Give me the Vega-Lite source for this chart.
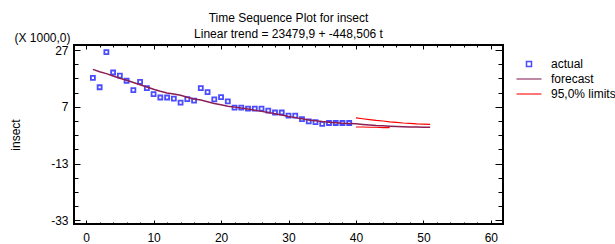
{
  "$schema": "https://vega.github.io/schema/vega-lite/v6.json",
  "width": 429,
  "height": 179,
  "autosize": {"type": "none"},
  "padding": {"left": 74, "top": 45, "right": 112, "bottom": 20},
  "background": "#ffffff",
  "title": {
    "text": "Time Sequence Plot for insect",
    "subtitle": "Linear trend = 23479,9 + -448,506 t",
    "anchor": "middle",
    "frame": "group",
    "font": "Liberation Sans",
    "subtitleFont": "Liberation Sans",
    "fontSize": 12,
    "subtitleFontSize": 12,
    "fontWeight": "normal",
    "color": "#000000",
    "subtitleColor": "#000000",
    "offset": -10,
    "subtitlePadding": 4
  },
  "config": {
    "view": {"stroke": "#000000", "strokeWidth": 2},
    "font": "Liberation Sans",
    "axis": {"labelFont": "Liberation Sans", "titleFont": "Liberation Sans", "labelFontSize": 12, "titleFontSize": 12, "labelColor": "#000000", "titleColor": "#000000", "tickColor": "#000000", "titleFontWeight": "normal", "domain": false, "grid": false}
  },
  "data": {
    "values": [
      {"t": 1, "value": 17200, "series": "actual"},
      {"t": 2, "value": 13900, "series": "actual"},
      {"t": 3, "value": 26300, "series": "actual"},
      {"t": 4, "value": 19100, "series": "actual"},
      {"t": 5, "value": 18000, "series": "actual"},
      {"t": 6, "value": 16200, "series": "actual"},
      {"t": 7, "value": 12900, "series": "actual"},
      {"t": 8, "value": 15800, "series": "actual"},
      {"t": 9, "value": 13600, "series": "actual"},
      {"t": 10, "value": 11500, "series": "actual"},
      {"t": 11, "value": 10300, "series": "actual"},
      {"t": 12, "value": 10300, "series": "actual"},
      {"t": 13, "value": 9900, "series": "actual"},
      {"t": 14, "value": 8500, "series": "actual"},
      {"t": 15, "value": 9700, "series": "actual"},
      {"t": 16, "value": 9200, "series": "actual"},
      {"t": 17, "value": 13600, "series": "actual"},
      {"t": 18, "value": 12200, "series": "actual"},
      {"t": 19, "value": 9600, "series": "actual"},
      {"t": 20, "value": 10400, "series": "actual"},
      {"t": 21, "value": 8900, "series": "actual"},
      {"t": 22, "value": 6700, "series": "actual"},
      {"t": 23, "value": 6700, "series": "actual"},
      {"t": 24, "value": 6400, "series": "actual"},
      {"t": 25, "value": 6400, "series": "actual"},
      {"t": 26, "value": 6400, "series": "actual"},
      {"t": 27, "value": 5700, "series": "actual"},
      {"t": 28, "value": 5000, "series": "actual"},
      {"t": 29, "value": 5000, "series": "actual"},
      {"t": 30, "value": 3900, "series": "actual"},
      {"t": 31, "value": 3900, "series": "actual"},
      {"t": 32, "value": 2700, "series": "actual"},
      {"t": 33, "value": 1900, "series": "actual"},
      {"t": 34, "value": 1600, "series": "actual"},
      {"t": 35, "value": 1000, "series": "actual"},
      {"t": 36, "value": 1300, "series": "actual"},
      {"t": 37, "value": 1300, "series": "actual"},
      {"t": 38, "value": 1300, "series": "actual"},
      {"t": 39, "value": 1300, "series": "actual"},
      {"t": 1, "value": 20200, "series": "forecast"},
      {"t": 2, "value": 19400, "series": "forecast"},
      {"t": 3, "value": 18700, "series": "forecast"},
      {"t": 4, "value": 17900, "series": "forecast"},
      {"t": 5, "value": 17100, "series": "forecast"},
      {"t": 6, "value": 16400, "series": "forecast"},
      {"t": 7, "value": 15600, "series": "forecast"},
      {"t": 8, "value": 14800, "series": "forecast"},
      {"t": 9, "value": 14000, "series": "forecast"},
      {"t": 10, "value": 13200, "series": "forecast"},
      {"t": 11, "value": 12500, "series": "forecast"},
      {"t": 12, "value": 11900, "series": "forecast"},
      {"t": 13, "value": 11500, "series": "forecast"},
      {"t": 14, "value": 11100, "series": "forecast"},
      {"t": 15, "value": 10400, "series": "forecast"},
      {"t": 16, "value": 9800, "series": "forecast"},
      {"t": 17, "value": 9400, "series": "forecast"},
      {"t": 18, "value": 8800, "series": "forecast"},
      {"t": 19, "value": 8200, "series": "forecast"},
      {"t": 20, "value": 7700, "series": "forecast"},
      {"t": 21, "value": 7200, "series": "forecast"},
      {"t": 22, "value": 6900, "series": "forecast"},
      {"t": 23, "value": 6600, "series": "forecast"},
      {"t": 24, "value": 6200, "series": "forecast"},
      {"t": 25, "value": 5800, "series": "forecast"},
      {"t": 26, "value": 5400, "series": "forecast"},
      {"t": 27, "value": 5000, "series": "forecast"},
      {"t": 28, "value": 4600, "series": "forecast"},
      {"t": 29, "value": 4100, "series": "forecast"},
      {"t": 30, "value": 3600, "series": "forecast"},
      {"t": 31, "value": 3200, "series": "forecast"},
      {"t": 32, "value": 2800, "series": "forecast"},
      {"t": 33, "value": 2400, "series": "forecast"},
      {"t": 34, "value": 2100, "series": "forecast"},
      {"t": 35, "value": 1800, "series": "forecast"},
      {"t": 36, "value": 1600, "series": "forecast"},
      {"t": 37, "value": 1400, "series": "forecast"},
      {"t": 38, "value": 1200, "series": "forecast"},
      {"t": 39, "value": 1100, "series": "forecast"},
      {"t": 40, "value": 1000, "series": "forecast"},
      {"t": 41, "value": 800, "series": "forecast"},
      {"t": 42, "value": 600, "series": "forecast"},
      {"t": 43, "value": 400, "series": "forecast"},
      {"t": 44, "value": 300, "series": "forecast"},
      {"t": 45, "value": 200, "series": "forecast"},
      {"t": 46, "value": 100, "series": "forecast"},
      {"t": 47, "value": 0, "series": "forecast"},
      {"t": 48, "value": -100, "series": "forecast"},
      {"t": 49, "value": -100, "series": "forecast"},
      {"t": 50, "value": -200, "series": "forecast"},
      {"t": 51, "value": -200, "series": "forecast"},
      {"t": 40, "value": 3100, "series": "95,0% limits", "bound": "upper"},
      {"t": 41, "value": 2800, "series": "95,0% limits", "bound": "upper"},
      {"t": 42, "value": 2500, "series": "95,0% limits", "bound": "upper"},
      {"t": 43, "value": 2200, "series": "95,0% limits", "bound": "upper"},
      {"t": 44, "value": 2000, "series": "95,0% limits", "bound": "upper"},
      {"t": 45, "value": 1700, "series": "95,0% limits", "bound": "upper"},
      {"t": 46, "value": 1500, "series": "95,0% limits", "bound": "upper"},
      {"t": 47, "value": 1300, "series": "95,0% limits", "bound": "upper"},
      {"t": 48, "value": 1200, "series": "95,0% limits", "bound": "upper"},
      {"t": 49, "value": 1000, "series": "95,0% limits", "bound": "upper"},
      {"t": 50, "value": 900, "series": "95,0% limits", "bound": "upper"},
      {"t": 51, "value": 800, "series": "95,0% limits", "bound": "upper"},
      {"t": 40, "value": -100, "series": "95,0% limits", "bound": "lower"},
      {"t": 41, "value": -100, "series": "95,0% limits", "bound": "lower"},
      {"t": 42, "value": -200, "series": "95,0% limits", "bound": "lower"},
      {"t": 43, "value": -200, "series": "95,0% limits", "bound": "lower"},
      {"t": 44, "value": -300, "series": "95,0% limits", "bound": "lower"},
      {"t": 45, "value": -300, "series": "95,0% limits", "bound": "lower"}
    ]
  },
  "layer": [
    {
      "transform": [{"filter": "datum.series === 'actual'"}],
      "mark": {"type": "point", "shape": "square", "filled": false, "size": 16, "strokeWidth": 1.8},
      "encoding": {
        "x": {
          "field": "t", "type": "quantitative",
          "scale": {"domain": [-1.8, 61.8], "nice": false, "zero": false},
          "axis": {
            "orient": "bottom", "title": null,
            "values": [0,2,4,6,8,10,12,14,16,18,20,22,24,26,28,30,32,34,36,38,40,42,44,46,48,50,52,54,56,58,60],
            "labelExpr": "datum.value % 10 === 0 ? datum.label : ''",
            "tickSize": {"condition": {"test": "datum.value % 10 === 0", "value": -4}, "value": -2},
            "labelPadding": 12
          }
        },
        "y": {
          "field": "value", "type": "quantitative",
          "scale": {"domain": [-34300, 28800], "nice": false, "zero": false},
          "axis": {
            "orient": "left", "title": "insect",
            "values": [-33000,-28000,-23000,-18000,-13000,-8000,-3000,2000,7000,12000,17000,22000,27000],
            "labelExpr": "(datum.value + 33000) % 20000 === 0 ? '' + (datum.value / 1000) : ''",
            "tickSize": {"condition": {"test": "(datum.value + 33000) % 20000 === 0", "value": -6}, "value": -4},
            "labelPadding": 12,
            "titleX": -59,
            "titleY": 89.5,
            "titleBaseline": "middle",
            "titleAlign": "center"
          }
        },
        "color": {
          "field": "series", "type": "nominal",
          "scale": {"domain": ["actual", "forecast", "95,0% limits"], "range": ["#0000ff", "#8b1e55", "#ff0000"]},
          "legend": {"orient": "none", "legendX": 449, "legendY": 13, "title": null, "labelFontSize": 12, "labelFont": "Liberation Sans", "labelColor": "#000000", "labelLimit": 300, "symbolStrokeWidth": 1.5, "symbolSize": 25, "labelOffset": 16, "rowPadding": 3}
        },
        "shape": {
          "field": "series", "type": "nominal",
          "scale": {"domain": ["actual", "forecast", "95,0% limits"], "range": ["square", "M-5,0H5", "M-5,0H5"]},
          "legend": {"orient": "none", "legendX": 449, "legendY": 13, "title": null, "labelFontSize": 12, "labelFont": "Liberation Sans", "labelColor": "#000000", "labelLimit": 300, "symbolStrokeWidth": 1.5, "symbolSize": 25, "labelOffset": 16, "rowPadding": 3}
        }
      }
    },
    {
      "transform": [{"filter": "datum.series === 'forecast'"}],
      "mark": {"type": "line", "strokeWidth": 1.5},
      "encoding": {
        "x": {
          "field": "t", "type": "quantitative",
          "axis": {
            "orient": "top", "title": null, "labels": false,
            "values": [0,2,4,6,8,10,12,14,16,18,20,22,24,26,28,30,32,34,36,38,40,42,44,46,48,50,52,54,56,58,60],
            "tickSize": {"condition": {"test": "datum.value % 10 === 0", "value": -4}, "value": -2}
          }
        },
        "y": {
          "field": "value", "type": "quantitative",
          "axis": {
            "orient": "right", "labels": false,
            "values": [-33000,-28000,-23000,-18000,-13000,-8000,-3000,2000,7000,12000,17000,22000,27000],
            "tickSize": {"condition": {"test": "(datum.value + 33000) % 20000 === 0", "value": -8}, "value": -5},
            "title": "(X 1000,0)", "titleAngle": 0, "titleX": -461, "titleY": -8, "titleAlign": "center", "titleBaseline": "middle"
          }
        },
        "color": {"field": "series", "type": "nominal"}
      }
    },
    {
      "transform": [{"filter": "datum.series === '95,0% limits'"}],
      "mark": {"type": "line", "strokeWidth": 1.2},
      "encoding": {
        "x": {"field": "t", "type": "quantitative", "axis": null},
        "y": {"field": "value", "type": "quantitative", "axis": null},
        "detail": {"field": "bound", "type": "nominal"},
        "color": {"field": "series", "type": "nominal"}
      }
    }
  ],
  "resolve": {"axis": {"x": "independent", "y": "independent"}}
}
